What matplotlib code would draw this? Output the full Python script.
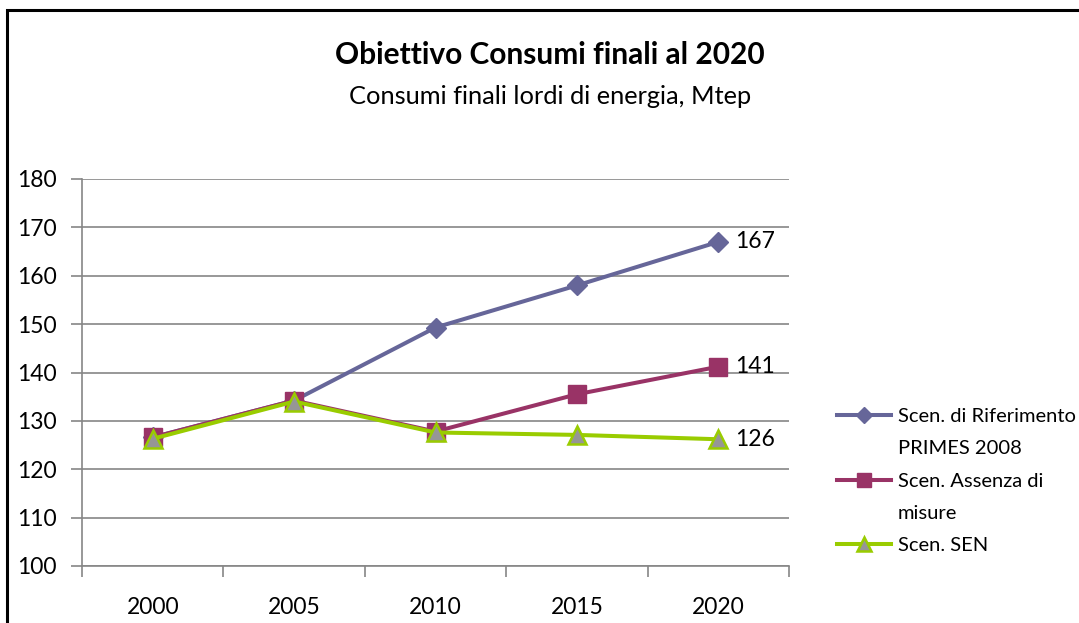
import matplotlib.pyplot as plt
from matplotlib.lines import Line2D
from matplotlib.patches import Rectangle

plt.rcParams['font.family'] = ['Lato', 'DejaVu Sans']

# data
years = ['2000', '2005', '2010', '2015', '2020']
riferimento = [126.6, 134.2, 149.3, 158.0, 167.0]
assenza = [126.6, 134.2, 127.8, 135.5, 141.2]
sen = [126.3, 134.0, 127.6, 127.1, 126.2]
end_labels = ['167', '141', '126']

labels = ['Scen. di Riferimento\nPRIMES 2008', 'Scen. Assenza di\nmisure', 'Scen. SEN']
colors = ['#666699', '#993366', '#99CC00']

fig = plt.figure(figsize=(10.79, 6.23), dpi=100)
ax = fig.add_axes([82 / 1079, 1 - 566 / 623, 707 / 1079, 387 / 623])

x = [i + 0.5 for i in range(len(years))]

styles = [
    dict(marker='D', ms=10, mfc=colors[0], mec=colors[0]),
    dict(marker='s', ms=13, mfc=colors[1], mec=colors[1]),
    dict(marker='^', ms=13, mfc='#969696', mec=colors[2], mew=1.8),
]

for i, series in enumerate([riferimento, assenza, sen]):
    ax.plot(x, series, color=colors[i], lw=2.9, zorder=3 + i, **styles[i])

# labels at the last point
for series, txt in zip([riferimento, assenza, sen], end_labels):
    ax.annotate(txt, (x[-1], series[-1]), xytext=(12, 0), textcoords='offset points',
                va='center', ha='left', fontsize=16.5)

ax.set_xlim(0, len(years))
ax.set_ylim(100, 180)
ax.set_yticks(range(100, 181, 10))
ax.set_xticks(range(len(years) + 1))
ax.set_xticklabels([])
ax.set_xticks(x, minor=True)
ax.set_xticklabels(years, minor=True)
ax.tick_params(axis='x', which='minor', length=0, labelsize=16.5, pad=22)
ax.tick_params(axis='x', which='major', length=8, color='#868686', width=1.2)
ax.tick_params(axis='y', length=8, color='#868686', width=1.2, labelsize=16.5, pad=10)

ax.grid(axis='y', color='#868686', lw=1.2)
ax.set_axisbelow(True)
for s in ['top', 'right']:
    ax.spines[s].set_visible(False)
for s in ['left', 'bottom']:
    ax.spines[s].set_color('#868686')
    ax.spines[s].set_linewidth(1.2)

# legend laid out like the Excel one (handle level with first text line)
row = 32.3 / 623
y0 = 1 - 415 / 623
k = 0
for i, lab in enumerate(labels):
    yy = y0 - k * row
    fig.add_artist(Line2D([837 / 1079, 891 / 1079], [yy, yy], color=colors[i], lw=2.9,
                          transform=fig.transFigure))
    st = dict(styles[i])
    st['ms'] = st['ms'] * 0.8
    fig.add_artist(Line2D([864 / 1079], [yy], ls='none', transform=fig.transFigure, **st))
    for line in lab.split('\n'):
        fig.text(898 / 1079, y0 - k * row, line, ha='left', va='center_baseline',
                 fontsize=14.5)
        k += 1

fig.text(0.51, 1 - 55 / 623, 'Obiettivo Consumi finali al 2020', ha='center', va='center',
         fontsize=21.5, fontweight='bold')
fig.text(0.51, 1 - 97 / 623, 'Consumi finali lordi di energia, Mtep', ha='center', va='center',
         fontsize=18.3)

# chart frame (cut by the image edges)
fig.add_artist(Rectangle((7 / 1079, -0.5), 2, 1.5 - 10 / 623, transform=fig.transFigure,
                         fill=False, ec='black', lw=2.2, clip_on=False))

fig.savefig('out.png', dpi=100)
